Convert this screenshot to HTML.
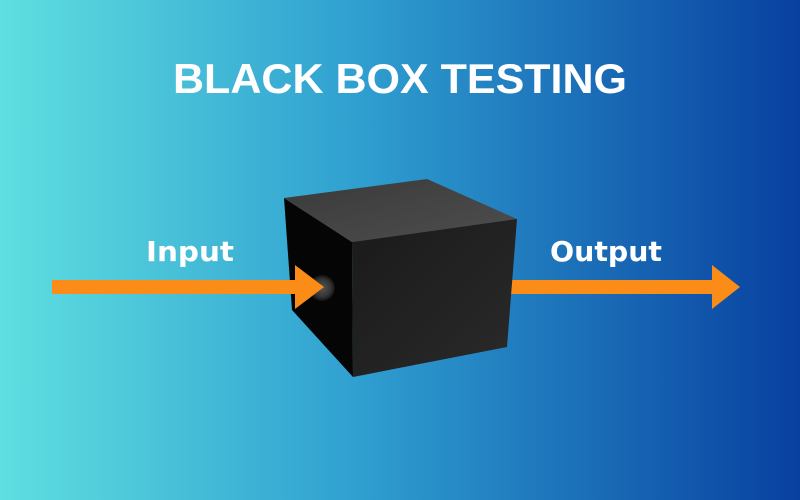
<!DOCTYPE html>
<html><head><meta charset="utf-8"><style>
html,body{margin:0;padding:0;width:800px;height:500px;overflow:hidden}
</style></head><body>
<svg width="800" height="500" viewBox="0 0 800 500" xmlns="http://www.w3.org/2000/svg">
<defs>
<linearGradient id="bg" x1="0" y1="0" x2="1" y2="0">
<stop offset="0" stop-color="#5fdfe0"/>
<stop offset="0.45" stop-color="#2f9fd0"/>
<stop offset="1" stop-color="#0840a0"/>
</linearGradient>
<linearGradient id="top" x1="0" y1="0" x2="1" y2="1">
<stop offset="0" stop-color="#3a3a3a"/>
<stop offset="1" stop-color="#4e4e4e"/>
</linearGradient>
<linearGradient id="front" x1="0" y1="0" x2="1" y2="1">
<stop offset="0" stop-color="#1a1a1a"/>
<stop offset="1" stop-color="#2a2a2a"/>
</linearGradient>
<radialGradient id="hole"><stop offset="0" stop-color="#555"/><stop offset="0.7" stop-color="#333"/><stop offset="1" stop-color="#111"/></radialGradient>
</defs>
<rect width="800" height="500" fill="url(#bg)"/>
<text x="400" y="93" text-anchor="middle" font-family="Liberation Sans, sans-serif" font-weight="bold" font-size="42" fill="#fff" textLength="454" lengthAdjust="spacingAndGlyphs">BLACK BOX TESTING</text>
<text x="146" y="261" font-family="DejaVu Sans, sans-serif" font-weight="bold" font-size="28" fill="#fff" textLength="88" lengthAdjust="spacingAndGlyphs">Input</text>
<text x="550" y="261" font-family="DejaVu Sans, sans-serif" font-weight="bold" font-size="28" fill="#fff" textLength="112" lengthAdjust="spacingAndGlyphs">Output</text>
<!-- output arrow -->
<rect x="505" y="280" width="210" height="14" fill="#fb8c18"/>
<polygon points="712,265 740,287 712,309" fill="#fb8c18"/>
<!-- cube -->
<polygon points="284,198 352,242 353,377 292,310" fill="#050505"/>
<polygon points="284,198 427,179 517,219 352,242" fill="url(#top)"/>
<polygon points="352,242 517,219 507,347 353,377" fill="url(#front)"/>
<circle cx="322" cy="288" r="13" fill="url(#hole)"/>
<!-- input arrow -->
<rect x="52" y="280" width="248" height="14" fill="#fb8c18"/>
<polygon points="295,265 324,287 295,309" fill="#fb8c18"/>
</svg>
</body></html>
